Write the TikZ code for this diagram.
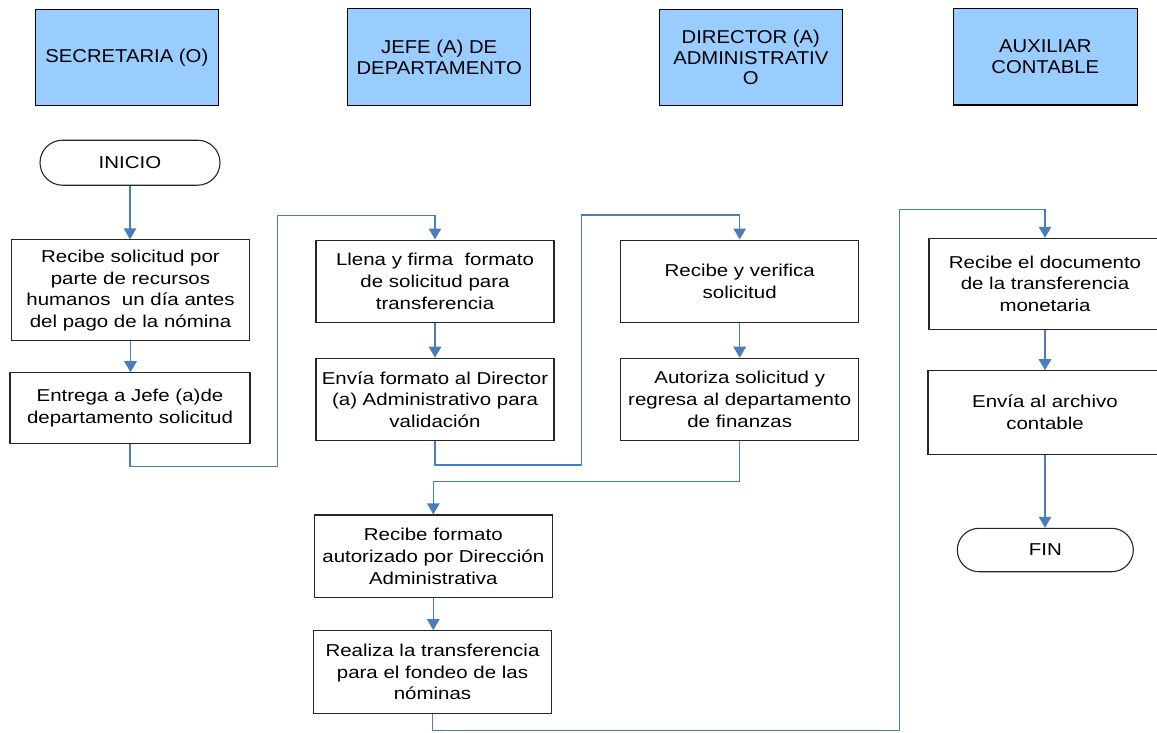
\documentclass[tikz,border=0pt]{standalone}
\usepackage{fontspec}
\setmainfont{Liberation Sans}
\newfontfamily\bodyfont[FakeStretch=1.19]{Liberation Sans}
\newfontfamily\headfont[FakeStretch=1.09]{Liberation Sans}
\usetikzlibrary{arrows.meta,shapes.misc}
\definecolor{lanefill}{HTML}{99CCFF}
\definecolor{flowblue}{RGB}{74,126,187}

\tikzset{
  lane/.style={draw=black, line width=1.2pt, fill=lanefill, minimum width=183pt,
    minimum height=96.5pt, inner sep=0pt, align=center,
    font=\headfont\fontsize{18.6}{20.7}\selectfont},
  task/.style={draw=black!85, line width=1.1pt, inner sep=0pt, align=center,
    minimum width=238pt, minimum height=82.5pt,
    font=\bodyfont\fontsize{17.2}{21.7}\selectfont},
  terminal/.style={draw=black!85, line width=1.1pt, rounded rectangle,
    minimum width=180pt, minimum height=45pt, inner sep=0pt,
    font=\bodyfont\fontsize{17.2}{21.7}\selectfont},
  flow/.style={draw=flowblue, line width=1.3pt,
    -{Triangle[width=12.5pt,length=11pt,fill=flowblue]}},
}

\begin{document}
\begin{tikzpicture}[x=1pt,y=-1pt]
\useasboundingbox (0,0) rectangle (1157,732);

% lane headers
\node[lane] (h1) at (126.8,57.5) {SECRETARIA (O)};
\node[lane] (h2) at (439.2,57) {JEFE (A) DE\\DEPARTAMENTO};
\node[lane] (h3) at (750.8,57.6) {DIRECTOR (A)\\ADMINISTRATIV\\O};
\node[lane, minimum width=184pt] (h4) at (1045.3,56.7) {AUXILIAR\\CONTABLE};

% start
\node[terminal] (inicio) at (130,162.7) {INICIO};

% secretaria
\node[task, minimum height=101pt] (a1) at (130.5,290.4)
  {Recibe solicitud por\\parte de recursos\\humanos\ \ un día antes\\del pago de la nómina};
\node[task, minimum width=240pt, minimum height=70.5pt] (a2) at (130,408)
  {Entrega a Jefe (a)de\\departamento solicitud};

% jefe de departamento
\node[task] (b1) at (435,281.3)
  {Llena y firma\ \ formato\\de solicitud para\\transferencia};
\node[task] (b2) at (435,399.5)
  {Envía formato al Director\\(a) Administrativo para\\validación};

% director administrativo
\node[task] (c1) at (739.7,281.3) {Recibe y verifica\\solicitud};
\node[task] (c2) at (739.7,399.5)
  {Autoriza solicitud y\\regresa al departamento\\de finanzas};

% back to jefe de departamento
\node[task] (d1) at (433.3,556.2)
  {Recibe formato\\autorizado por Dirección\\Administrativa};
\node[task] (d2) at (432.5,672)
  {Realiza la transferencia\\para el fondeo de las\\nóminas};

% auxiliar contable
\node[task, minimum width=232pt, minimum height=91pt] (e1) at (1045,283.8)
  {Recibe el documento\\de la transferencia\\monetaria};
\node[task, minimum width=234pt, minimum height=83.3pt] (e2) at (1045,412.4)
  {Envía al archivo\\contable};
\node[terminal, minimum width=176pt, minimum height=43.4pt] (fin) at (1045.3,550) {FIN};

% routing points
\coordinate (ab1) at (277.3,466.7);
\coordinate (ab2) at (277.3,215.6);
\coordinate (bc1) at (581.7,465);
\coordinate (bc2) at (581.7,215);
\coordinate (cd)  at (433.3,481.6);
\coordinate (de1) at (899.3,730.7);
\coordinate (de2) at (899.3,209.3);

% connectors
\draw[flow] (inicio.south) -- (inicio.south |- a1.north);
\draw[flow] (a1.south) -- (a1.south |- a2.north);
\draw[flow] (a2.south) |- (ab1) -- (ab2) -| (b1.north);
\draw[flow] (b1.south) -- (b1.south |- b2.north);
\draw[flow] (b2.south) |- (bc1) -- (bc2) -| (c1.north);
\draw[flow] (c1.south) -- (c1.south |- c2.north);
\draw[flow] (c2.south) |- (cd) -- (cd |- d1.north);
\draw[flow] (d1.south) -- (d1.south |- d2.north);
\draw[flow] (d2.south) |- (de1) -- (de2) -| (e1.north);
\draw[flow] (e1.south) -- (e1.south |- e2.north);
\draw[flow] (e2.south) -- (e2.south |- fin.north);
\end{tikzpicture}
\end{document}
